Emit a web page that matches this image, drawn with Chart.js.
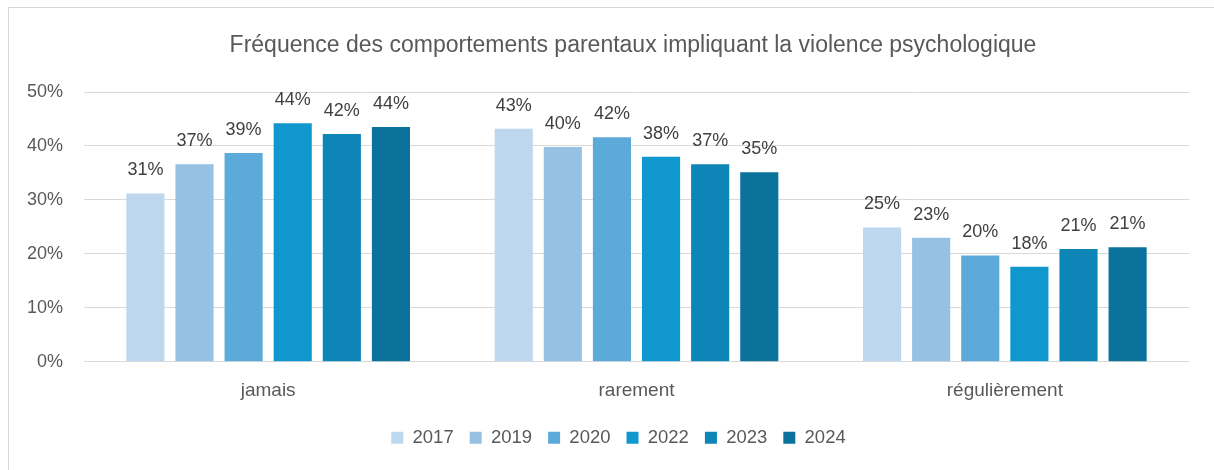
<!DOCTYPE html>
<html>
<head>
<meta charset="utf-8">
<script src="https://cdn.jsdelivr.net/npm/chart.js@4.4.1/dist/chart.umd.min.js"></script>
<style>
    body { margin: 0; background: #fff; }
    #frame { position: absolute; left: 8px; top: 7px; width: 1220px; height: 480px; border: 1px solid #d9d9d9; }
    #wrap { position: absolute; left: 0; top: 0; width: 1214px; height: 470px; }
</style>
</head>
<body>
<div id="frame"></div>
<div id="wrap"><canvas id="myChart"></canvas></div>
<script>
var chartTitle = 'Fréquence des comportements parentaux impliquant la violence psychologique';
var categories = ['jamais', 'rarement', 'régulièrement'];
var years = ['2017', '2019', '2020', '2022', '2023', '2024'];
var values2017 = [31.2, 43.2, 24.9];
var values2019 = [36.6, 39.8, 23.0];
var values2020 = [38.7, 41.6, 19.7];
var values2022 = [44.2, 38.0, 17.6];
var values2023 = [42.2, 36.6, 20.9];
var values2024 = [43.5, 35.1, 21.2];
var yTicks = ['0%', '10%', '20%', '30%', '40%', '50%'];

var colors = ['#bdd7ee', '#97c1e3', '#5caada', '#1098ce', '#0d85b6', '#0a729b'];
var allValues = [values2017, values2019, values2020, values2022, values2023, values2024];

var datasets = years.map(function (y, i) {
    return {
        label: y,
        data: allValues[i],
        backgroundColor: colors[i],
        borderWidth: 0,
        categoryPercentage: 0.8,
        barPercentage: 0.776
    };
});

// title + percentage labels above each bar
var barLabels = {
    id: 'barLabels',
    afterLayout: function (chart) {
        // legend sits a bit right of the plot centre in the original
        chart.legend.left += 24;
        chart.legend.right += 24;
    },
    afterDraw: function (chart) {
        var ctx = chart.ctx;
        ctx.save();
        ctx.font = '23px "Liberation Sans"';
        ctx.fillStyle = '#595959';
        ctx.textAlign = 'center';
        ctx.textBaseline = 'middle';
        ctx.fillText(chartTitle, 633, 46);

        ctx.font = '18px "Liberation Sans"';
        ctx.fillStyle = '#404040';
        ctx.textBaseline = 'alphabetic';
        chart.data.datasets.forEach(function (ds, i) {
            chart.getDatasetMeta(i).data.forEach(function (bar, j) {
                ctx.fillText(Math.round(ds.data[j]) + '%', bar.x, bar.y - 18);
            });
        });
        ctx.restore();
    }
};

var ctx = document.getElementById('myChart').getContext('2d');
new Chart(ctx, {
    type: 'bar',
    data: {
        labels: categories,
        datasets: datasets
    },
    options: {
        responsive: true,
        maintainAspectRatio: false,
        animation: false,
        layout: {
            padding: { left: 0, right: 25, top: 92, bottom: 13 }
        },
        scales: {
            x: {
                grid: { display: false },
                border: { display: false },
                ticks: {
                    color: '#595959',
                    font: { family: 'Liberation Sans', size: 19 },
                    padding: 10
                }
            },
            y: {
                min: 0,
                max: 50,
                afterFit: function (scale) { scale.width = 84; },
                grid: { color: '#d9d9d9', lineWidth: 1, drawTicks: false },
                border: { display: false },
                ticks: {
                    stepSize: 10,
                    color: '#595959',
                    padding: 21,
                    font: { family: 'Liberation Sans', size: 18 },
                    callback: function (v, i) { return yTicks[i]; }
                }
            }
        },
        plugins: {
            title: { display: false },
            legend: {
                position: 'bottom',
                labels: {
                    color: '#595959',
                    font: { family: 'Liberation Sans', size: 18.5 },
                    boxWidth: 12,
                    boxHeight: 12,
                    padding: 16
                }
            },
            tooltip: { enabled: false }
        }
    },
    plugins: [barLabels]
});
</script>
</body>
</html>
